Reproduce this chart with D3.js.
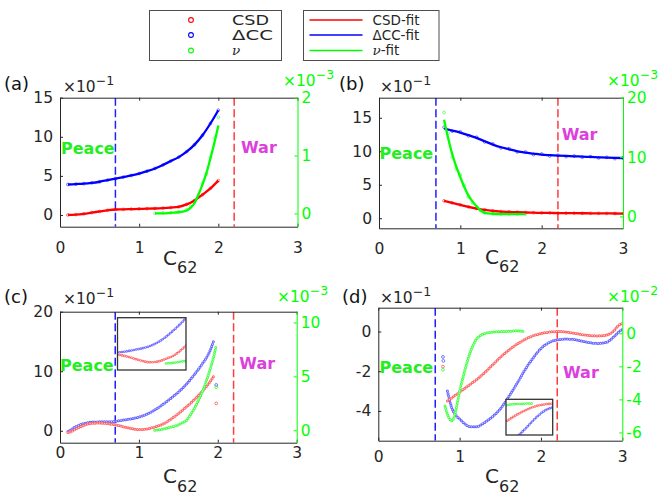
<!DOCTYPE html>
<html>
<head>
<meta charset="utf-8">
<script src="https://cdn.jsdelivr.net/npm/d3@7"></script>
<style>
  body { margin: 0; background: #fff; }
  svg { font-family: "DejaVu Sans", sans-serif; }
</style>
</head>
<body>
<div id="chart"></div>
<script>
// ---------- data ----------
const xTicks = [0, 1, 2, 3];

// (a)
const xA = [0.1, 0.2, 0.3, 0.4, 0.5, 0.6, 0.7, 0.8, 0.9, 1.0, 1.1, 1.2, 1.3, 1.4, 1.5, 1.6, 1.7, 1.8, 1.9, 2.0];
const csdA = [0.0, 0.05, 0.15, 0.3, 0.45, 0.6, 0.7, 0.72, 0.75, 0.78, 0.8, 0.83, 0.88, 0.95, 1.05, 1.35, 1.85, 2.6, 3.4, 4.4];
const dccA = [3.9, 3.95, 4.0, 4.1, 4.25, 4.45, 4.65, 4.85, 5.05, 5.3, 5.6, 5.95, 6.4, 6.9, 7.4, 8.1, 9.0, 10.2, 11.7, 13.4];
const xNuA = [1.2, 1.3, 1.4, 1.5, 1.6, 1.65, 1.7, 1.75, 1.8, 1.85, 1.9, 1.95, 2.0];
const nuFitA = [0.0, 0.0, 0.01, 0.02, 0.05, 0.1, 0.18, 0.33, 0.5, 0.7, 0.95, 1.22, 1.52];
const nuA = [0.0, 0.01, 0.01, 0.03, 0.06, 0.12, 0.2, 0.3, 0.52, 0.68, 0.97, 1.3, 1.66];

// (b)
const xB = [0.8, 0.9, 1.0, 1.1, 1.2, 1.3, 1.4, 1.5, 1.6, 1.7, 1.8, 1.9, 2.0, 2.1, 2.2, 2.3, 2.4, 2.5, 2.6, 2.7, 2.8, 2.9, 3.0];
const csdB = [2.6, 2.3, 2.0, 1.7, 1.45, 1.25, 1.1, 1.0, 0.95, 0.9, 0.86, 0.83, 0.8, 0.79, 0.78, 0.77, 0.76, 0.75, 0.74, 0.73, 0.72, 0.71, 0.7];
const dccFitB = [13.4, 13.1, 12.8, 12.4, 12.0, 11.5, 11.0, 10.6, 10.3, 10.0, 9.8, 9.65, 9.5, 9.42, 9.35, 9.3, 9.25, 9.2, 9.15, 9.1, 9.05, 9.02, 9.0];
const dccB = [13.6, 13.0, 12.9, 12.3, 12.1, 11.4, 11.1, 10.5, 10.4, 9.9, 9.9, 9.5, 9.6, 9.3, 9.4, 9.2, 9.3, 9.1, 9.2, 9.0, 9.1, 8.9, 9.0];
const xNuB = [0.8, 0.85, 0.9, 0.95, 1.0, 1.05, 1.1, 1.15, 1.2, 1.25, 1.3, 1.4, 1.5, 1.6, 1.7, 1.8];
const nuFitB = [16.3, 13.2, 10.5, 8.4, 6.6, 4.9, 3.5, 2.5, 1.7, 1.0, 0.6, 0.45, 0.4, 0.4, 0.4, 0.4];
const nuB = [17.5, 14.0, 10.0, 8.0, 7.0, 5.2, 3.3, 2.3, 1.6, 1.0, 0.6, 0.45, 0.4, 0.4, 0.4, 0.4];

// (c)
const xC = [0.1, 0.15, 0.2, 0.3, 0.4, 0.5, 0.6, 0.7, 0.8, 0.9, 1.0, 1.1, 1.2, 1.3, 1.4, 1.5, 1.6, 1.7, 1.8, 1.9, 1.95];
const csdC = [-0.3, -0.1, 0.3, 0.9, 1.25, 1.3, 1.2, 1.0, 0.7, 0.4, 0.2, 0.3, 0.65, 1.1, 1.9, 2.9, 4.0, 5.2, 6.6, 8.2, 9.2];
const dccC = [-0.1, 0.3, 0.7, 1.2, 1.45, 1.5, 1.5, 1.6, 1.8, 2.0, 2.3, 2.8, 3.5, 4.4, 5.4, 6.5, 7.8, 9.4, 11.2, 13.4, 15.2];
const xNuC = [1.2, 1.3, 1.4, 1.5, 1.55, 1.6, 1.65, 1.7, 1.75, 1.8, 1.85, 1.9, 1.95, 1.98];
const nuC = [0.0, 0.1, 0.3, 0.5, 0.7, 0.9, 1.4, 2.0, 2.7, 3.5, 4.5, 5.6, 6.9, 7.9];
const outXC = [1.98];
const outCsdC = [4.6];
const outDccC = [7.7];
const outNuC = [4.0];

// (d)
const xD = [0.85, 0.9, 0.95, 1.0, 1.05, 1.1, 1.15, 1.2, 1.3, 1.4, 1.5, 1.6, 1.7, 1.8, 1.9, 2.0, 2.1, 2.2, 2.3, 2.4, 2.5, 2.6, 2.7, 2.8, 2.9, 2.95, 3.0];
const csdD = [-3.5, -3.35, -3.2, -3.05, -2.9, -2.75, -2.6, -2.45, -2.1, -1.7, -1.3, -0.95, -0.65, -0.4, -0.22, -0.1, -0.03, 0.0, -0.02, -0.08, -0.15, -0.2, -0.22, -0.18, 0.05, 0.3, 0.4];
const dccD = [-3.0, -3.8, -4.2, -4.4, -4.6, -4.75, -4.8, -4.8, -4.6, -4.3, -3.9, -3.3, -2.65, -1.95, -1.35, -0.85, -0.55, -0.42, -0.38, -0.4, -0.48, -0.56, -0.6, -0.55, -0.25, -0.05, 0.1];
const xNuD = [0.82, 0.85, 0.88, 0.9, 0.93, 0.96, 1.0, 1.05, 1.1, 1.15, 1.2, 1.25, 1.3, 1.4, 1.5, 1.6, 1.7, 1.8];
const nuD = [-4.4, -4.9, -5.2, -5.3, -5.1, -4.5, -3.5, -2.5, -1.6, -0.9, -0.4, -0.15, -0.02, 0.07, 0.1, 0.12, 0.15, 0.12];
const outXD = [0.795, 0.8];
const outCsdD = [-1.77];
const outDccD = [-1.28, -1.48];
const outNuD = [-2.2];

const peaceX = 0.7, warX = 2.2;

// ---------- colours ----------
const RED = '#ff0000', BLUE = '#0000ff', GREEN = '#00ff00', AXIS = '#262626';
const RED_L = '#ff6464', BLUE_L = '#6464ff', GREEN_L = '#44ff44';

const svg = d3.select('#chart').append('svg')
  .attr('width', 659).attr('height', 496);

// ---------- legends ----------
const legRows = [20, 35, 50.5];
const legScatter = [
  {label: 'CSD', color: RED, len: 37},
  {label: '\u0394CC', color: BLUE, len: 41},
  {label: '\u03bd', color: GREEN, italic: true}
];
const legFit = [
  {label: 'CSD', suffix: '-fit', color: RED},
  {label: '\u0394CC', suffix: '-fit', color: BLUE},
  {label: '\u03bd', suffix: '-fit', color: GREEN, italic: true}
];

svg.append('rect').attr('x', 149.5).attr('y', 10.5).attr('width', 132).attr('height', 50)
  .attr('fill', '#fff').attr('stroke', '#4d4d4d').attr('stroke-width', 1);
svg.append('rect').attr('x', 303.5).attr('y', 10.5).attr('width', 135.5).attr('height', 50)
  .attr('fill', '#fff').attr('stroke', '#4d4d4d').attr('stroke-width', 1);

legScatter.forEach((d, i) => {
  svg.append('circle').attr('cx', 191).attr('cy', legRows[i]).attr('r', 2.4)
    .attr('fill', 'none').attr('stroke', d.color).attr('stroke-width', 1.1);
  const t = svg.append('text').attr('x', 232).attr('y', legRows[i] + 4.7)
    .attr('font-size', 13.5).attr('fill', AXIS)
    .attr('font-style', d.italic ? 'italic' : null)
    .attr('font-family', d.italic ? '"DejaVu Serif", serif' : null)
    .text(d.label);
  if (d.len) t.attr('textLength', d.len).attr('lengthAdjust', 'spacingAndGlyphs');
});
legFit.forEach((d, i) => {
  svg.append('line').attr('x1', 309.5).attr('x2', 362.5).attr('y1', legRows[i]).attr('y2', legRows[i])
    .attr('stroke', d.color).attr('stroke-width', 1.5);
  const t = svg.append('text').attr('x', 372.5).attr('y', legRows[i] + 4.7)
    .attr('font-size', 13.5).attr('fill', AXIS);
  t.append('tspan').text(d.label)
    .attr('font-style', d.italic ? 'italic' : null)
    .attr('font-family', d.italic ? '"DejaVu Serif", serif' : null);
  t.append('tspan').text(d.suffix);
});

// ---------- panels ----------
const panels = [
  {
    name: '(a)', left: 60, right: 297.5, top: 97.7, bottom: 226.7,
    yLeft: [-1.5, 15], yRight: [-0.23, 2], leftTicks: [0, 5, 10, 15], rightTicks: [0, 1, 2],
    rightExp: '\u22123', xTickBase: 253, xLab: [163, 265],
    nameAt: [4, 90], leftExpAt: [63, 91.7], rightExpAt: [283, 86],
    peaceAt: [61, 154.3], warAt: [241, 153.3],
    fits: [[xA, csdA, RED, 'L'], [xA, dccA, BLUE, 'L'], [xNuA, nuFitA, GREEN, 'R']],
    dots: [[xA, csdA, RED, 'L'], [xA, dccA, BLUE, 'L'], [xNuA, nuA, GREEN, 'R']]
  },
  {
    name: '(b)', left: 379, right: 623, top: 97.7, bottom: 228.3,
    yLeft: [-1.5, 18], yRight: [-2, 20], leftTicks: [0, 5, 10, 15], rightTicks: [0, 10, 20],
    rightExp: '\u22123', xTickBase: 254.5, xLab: [485, 264],
    nameAt: [339, 90], leftExpAt: [380, 91.7], rightExpAt: [607, 86],
    peaceAt: [379.5, 159], warAt: [561.7, 140],
    fits: [[xB, csdB, RED, 'L'], [xB, dccFitB, BLUE, 'L'], [xNuB, nuFitB, GREEN, 'R']],
    dots: [[xB, csdB, RED, 'L'], [xB, dccB, BLUE, 'L'], [xNuB, nuB, GREEN, 'R']]
  },
  {
    name: '(c)', left: 60, right: 296.7, top: 311.7, bottom: 442.7,
    yLeft: [-2, 20], yRight: [-1.15, 11], leftTicks: [0, 10, 20], rightTicks: [0, 5, 10],
    rightExp: '\u22123', xTickBase: 458.5, xLab: [163, 483.3],
    nameAt: [4, 303], leftExpAt: [63, 304], rightExpAt: [277, 302],
    peaceAt: [60, 370.7], warAt: [239.3, 369.3],
    rings: [[xC, dccC, BLUE_L, 'L'], [xC, csdC, RED_L, 'L'], [xNuC, nuC, GREEN_L, 'R']],
    outs: [[outXC, outDccC, BLUE_L, 'L'], [outXC, outCsdC, RED_L, 'L'], [outXC, outNuC, GREEN_L, 'R']],
    inset: {left: 117.5, right: 186, top: 317.7, bottom: 370, x: [0.6, 1.45], yL: [-0.8, 6], yR: [-1, 7]}
  },
  {
    name: '(d)', left: 378.3, right: 622.3, top: 307.7, bottom: 440.7,
    yLeft: [-5.5, 1.2], yRight: [-6.5, 1.55], leftTicks: [-4, -2, 0], rightTicks: [-6, -4, -2, 0],
    rightExp: '\u22122', xTickBase: 462, xLab: [485, 483.3],
    nameAt: [342, 303], leftExpAt: [380, 303], rightExpAt: [607, 302],
    peaceAt: [379.5, 372.7], warAt: [563, 378.3],
    rings: [[xD, dccD, BLUE_L, 'L'], [xD, csdD, RED_L, 'L'], [xNuD, nuD, GREEN_L, 'R']],
    outs: [[outXD, outDccD, BLUE_L, 'L'], [outXD, outCsdD, RED_L, 'L'], [outXD, outNuD, GREEN_L, 'R']],
    inset: {left: 506, right: 552.7, top: 399.3, bottom: 435, x: [1.3, 2.15], yL: [-3.7, 0.5], yR: [-2.5, 0.5]}
  }
];

let clipId = 0;
function addClip(l, t, w, h) {
  const id = 'clip' + (clipId++);
  svg.append('clipPath').attr('id', id).append('rect')
    .attr('x', l).attr('y', t).attr('width', w).attr('height', h);
  return 'url(#' + id + ')';
}

// chain of small hollow markers along the data
function ringSeries(g, xs, ys, xs_, ys_, color, w) {
  const line = d3.line().x((d, i) => xs_(xs[i])).y(d => ys_(d)).curve(d3.curveMonotoneX);
  g.append('path').attr('d', line(ys)).attr('fill', 'none')
    .attr('stroke', color).attr('stroke-width', w).attr('stroke-linecap', 'round')
    .attr('stroke-dasharray', '0,2.4');
  g.append('path').attr('d', line(ys)).attr('fill', 'none')
    .attr('stroke', '#fff').attr('stroke-width', w * 0.38).attr('stroke-linecap', 'round')
    .attr('stroke-dasharray', '0,2.4').attr('opacity', 0.85);
}

function styleAxis(sel, color) {
  sel.attr('font-family', null).attr('font-size', 15.5).attr('color', color);
}

function expLabel(g, at, exp, color) {
  const t = g.append('text').attr('x', at[0]).attr('y', at[1])
    .attr('font-size', 15.5).attr('fill', color);
  t.append('tspan').text('\u00d710');
  t.append('tspan').attr('dy', -7).attr('font-size', 12.5).text(exp);
}

panels.forEach(p => {
  const x = d3.scaleLinear().domain([0, 3]).range([p.left, p.right]);
  const yL = d3.scaleLinear().domain(p.yLeft).range([p.bottom, p.top]);
  const yR = d3.scaleLinear().domain(p.yRight).range([p.bottom, p.top]);
  const g = svg.append('g');
  const plot = g.append('g')
    .attr('clip-path', addClip(p.left, p.top, p.right - p.left, p.bottom - p.top));

  // regime markers
  [[peaceX, '#1f1fff'], [warX, '#ff3b3b']].forEach(([v, c]) => {
    plot.append('line').attr('x1', x(v)).attr('x2', x(v)).attr('y1', p.top).attr('y2', p.bottom)
      .attr('stroke', c).attr('stroke-width', 1.5).attr('stroke-dasharray', '8,3.5');
  });

  const yOf = s => (s === 'L' ? yL : yR);

  if (p.fits) {
    p.dots.forEach(([xs, ys, c, s]) => {
      plot.selectAll(null).data(ys).join('circle')
        .attr('cx', (d, i) => x(xs[i])).attr('cy', d => yOf(s)(d)).attr('r', 1.4)
        .attr('fill', 'none').attr('stroke', c).attr('stroke-width', 0.7).attr('opacity', 0.7);
    });
    p.fits.forEach(([xs, ys, c, s]) => {
      const line = d3.line().x((d, i) => x(xs[i])).y(d => yOf(s)(d)).curve(d3.curveMonotoneX);
      plot.append('path').attr('d', line(ys)).attr('fill', 'none')
        .attr('stroke', c).attr('stroke-width', 2.3);
    });
  }

  if (p.rings) {
    p.rings.forEach(([xs, ys, c, s]) => ringSeries(plot, xs, ys, x, yOf(s), c, 3));
    p.outs.forEach(([xs, ys, c, s]) => {
      plot.selectAll(null).data(ys).join('circle')
        .attr('cx', (d, i) => x(xs[i])).attr('cy', d => yOf(s)(d)).attr('r', 1.4)
        .attr('fill', 'none').attr('stroke', c).attr('stroke-width', 0.9);
    });
  }

  // inset
  if (p.inset) {
    const b = p.inset;
    const ix = d3.scaleLinear().domain(b.x).range([b.left, b.right]);
    const iyL = d3.scaleLinear().domain(b.yL).range([b.bottom, b.top]);
    const iyR = d3.scaleLinear().domain(b.yR).range([b.bottom, b.top]);
    g.append('rect').attr('x', b.left).attr('y', b.top)
      .attr('width', b.right - b.left).attr('height', b.bottom - b.top).attr('fill', '#fff');
    const ig = g.append('g')
      .attr('clip-path', addClip(b.left, b.top, b.right - b.left, b.bottom - b.top));
    p.rings.forEach(([xs, ys, c, s]) => ringSeries(ig, xs, ys, ix, s === 'L' ? iyL : iyR, c, 2.6));
    g.append('rect').attr('x', b.left).attr('y', b.top)
      .attr('width', b.right - b.left).attr('height', b.bottom - b.top)
      .attr('fill', 'none').attr('stroke', '#333').attr('stroke-width', 1.3);
  }

  // axes
  const fmt = d => String(d);
  const bottomAx = g.append('g').attr('transform', `translate(0,${p.bottom})`)
    .call(d3.axisBottom(x).tickValues(xTicks).tickFormat(fmt).tickSizeInner(-3).tickSizeOuter(0));
  styleAxis(bottomAx, AXIS);
  bottomAx.selectAll('text').attr('dy', null).attr('y', p.xTickBase - p.bottom);

  const topAx = g.append('g').attr('transform', `translate(0,${p.top})`)
    .call(d3.axisTop(x).tickValues(xTicks).tickFormat('').tickSizeInner(-3).tickSizeOuter(0));
  styleAxis(topAx, AXIS);

  const leftAx = g.append('g').attr('transform', `translate(${p.left},0)`)
    .call(d3.axisLeft(yL).tickValues(p.leftTicks).tickFormat(fmt).tickSizeInner(-3).tickSizeOuter(0).tickPadding(7));
  styleAxis(leftAx, AXIS);

  const rightAx = g.append('g').attr('transform', `translate(${p.right},0)`)
    .call(d3.axisRight(yR).tickValues(p.rightTicks).tickFormat(fmt).tickSizeInner(-3).tickSizeOuter(0).tickPadding(4));
  styleAxis(rightAx, GREEN);

  // labels
  g.append('text').attr('x', p.nameAt[0]).attr('y', p.nameAt[1])
    .attr('font-size', 18).attr('fill', '#111').text(p.name);
  expLabel(g, p.leftExpAt, '\u22121', AXIS);
  expLabel(g, p.rightExpAt, p.rightExp, GREEN);

  const xl = g.append('text').attr('x', p.xLab[0]).attr('y', p.xLab[1])
    .attr('font-size', 20).attr('fill', AXIS);
  xl.append('tspan').text('C');
  xl.append('tspan').attr('dy', 8.4).attr('font-size', 16).text('62');

  g.append('text').attr('x', p.peaceAt[0]).attr('y', p.peaceAt[1])
    .attr('font-size', 16).attr('font-weight', 'bold').attr('fill', '#22ee22').text('Peace');
  g.append('text').attr('x', p.warAt[0]).attr('y', p.warAt[1])
    .attr('font-size', 16).attr('font-weight', 'bold').attr('fill', '#dd3fdd').text('War');
});
</script>
</body>
</html>
